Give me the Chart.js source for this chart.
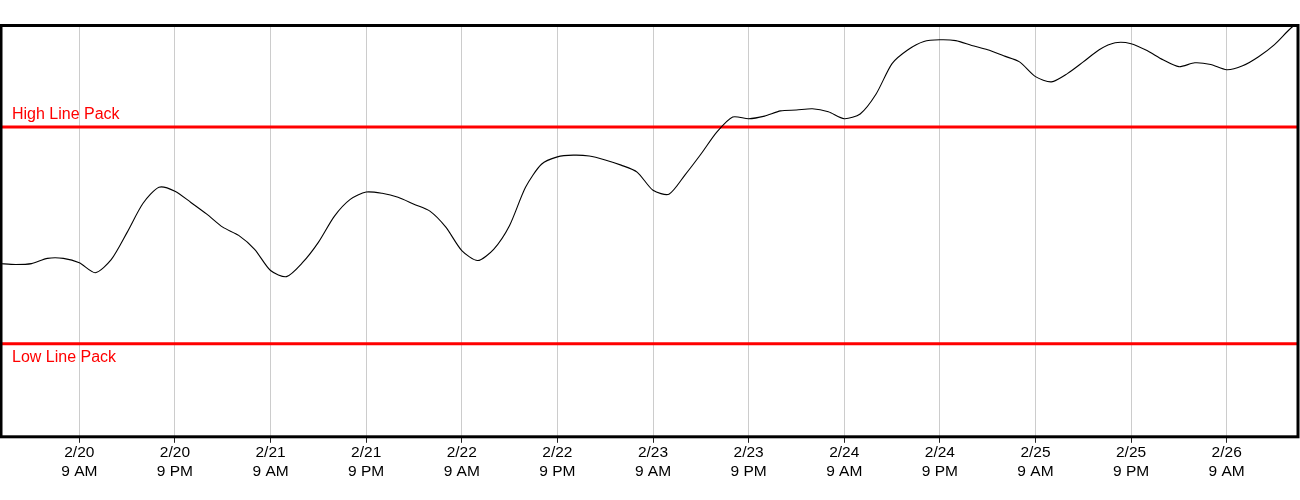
<!DOCTYPE html>
<html>
<head>
<meta charset="utf-8">
<script src="https://cdn.jsdelivr.net/npm/chart.js@4"></script>
<style>
  html, body { margin: 0; padding: 0; background: #fff; }
  #wrap { width: 1300px; height: 500px; position: relative; }
</style>
</head>
<body>
<div id="wrap"><canvas id="c"></canvas></div>
<script>
// Hours relative to 2/20 9 AM; one reading every 2 hours starting at 2/19 11 PM
const startHour = -10;
const stepHours = 2;
const linePack = [
  3185, 3183, 3185, 3197, 3197, 3187, 3164, 3194, 3257, 3324,
  3361, 3352, 3326, 3299, 3269, 3250, 3218, 3169, 3155, 3187,
  3234, 3294, 3333, 3350, 3347, 3338, 3322, 3306, 3269, 3215,
  3192, 3218, 3273, 3361, 3414, 3431, 3435, 3433, 3424, 3412,
  3396, 3354, 3345, 3389, 3437, 3488, 3523, 3519, 3525, 3537,
  3539, 3542, 3535, 3519, 3530, 3576, 3646, 3678, 3697, 3701,
  3699, 3688, 3678, 3664, 3650, 3616, 3604, 3623, 3650, 3678,
  3694, 3692, 3676, 3655, 3639, 3648, 3644, 3632, 3641, 3662,
  3690, 3727, 3755
];
const highLinePack = 3500;
const lowLinePack = 3000;
const highLabel = 'High Line Pack';
const lowLabel = 'Low Line Pack';
const tickHours = [0, 12, 24, 36, 48, 60, 72, 84, 96, 108, 120, 132, 144];
const tickDates = ['2/20','2/20','2/21','2/21','2/22','2/22','2/23','2/23','2/24','2/24','2/25','2/25','2/26'];
const tickTimes = ['9 AM','9 PM','9 AM','9 PM','9 AM','9 PM','9 AM','9 PM','9 AM','9 PM','9 AM','9 PM','9 AM'];

const FONT = '"Liberation Sans", Arial, sans-serif';
const lastHour = startHour + stepHours * (linePack.length - 1);
const points = linePack.map((v, i) => ({ x: startHour + i * stepHours, y: v }));

const borderPlugin = {
  id: 'borderPlugin',
  afterDraw(chart) {
    const { ctx, chartArea: a, scales } = chart;
    const y = scales.y;
    ctx.save();
    ctx.fillStyle = '#ff0000';
    ctx.font = '16px ' + FONT;
    ctx.textBaseline = 'alphabetic';
    ctx.textAlign = 'left';
    ctx.fillText(highLabel, a.left + 11, y.getPixelForValue(highLinePack) - 8);
    ctx.fillText(lowLabel, a.left + 11, y.getPixelForValue(lowLinePack) + 18);
    ctx.strokeStyle = '#000';
    ctx.lineWidth = 3;
    ctx.strokeRect(a.left, a.top, a.right - a.left, a.bottom - a.top);
    ctx.restore();
  }
};

new Chart(document.getElementById('c'), {
  type: 'line',
  data: {
    datasets: [
      {
        data: points,
        borderColor: '#000',
        borderWidth: 1.1,
        pointRadius: 0,
        tension: 0.25,
        fill: false
      },
      {
        data: [{ x: startHour, y: highLinePack }, { x: lastHour, y: highLinePack }],
        borderColor: '#ff0000',
        borderWidth: 3,
        pointRadius: 0
      },
      {
        data: [{ x: startHour, y: lowLinePack }, { x: lastHour, y: lowLinePack }],
        borderColor: '#ff0000',
        borderWidth: 3,
        pointRadius: 0
      }
    ]
  },
  options: {
    responsive: true,
    maintainAspectRatio: false,
    animation: false,
    layout: { padding: { top: 25.5, left: 1, right: 2, bottom: 18 } },
    plugins: { legend: { display: false }, tooltip: { enabled: false } },
    scales: {
      x: {
        type: 'linear',
        min: -9.83,
        max: 152.95,
        afterBuildTicks(scale) { scale.ticks = tickHours.map(v => ({ value: v })); },
        grid: { color: '#cccccc', lineWidth: 1, tickLength: 6, tickColor: '#222', drawOnChartArea: true },
        border: { display: false },
        ticks: {
          autoSkip: false,
          maxRotation: 0,
          color: '#000',
          padding: 1,
          font: { family: FONT, size: 15.5 },
          callback(value) {
            const i = tickHours.indexOf(value);
            return i >= 0 ? [tickDates[i], tickTimes[i]] : '';
          }
        }
      },
      y: {
        display: false,
        min: 2785.7,
        max: 3733.9
      }
    }
  },
  plugins: [borderPlugin]
});
</script>
</body>
</html>
